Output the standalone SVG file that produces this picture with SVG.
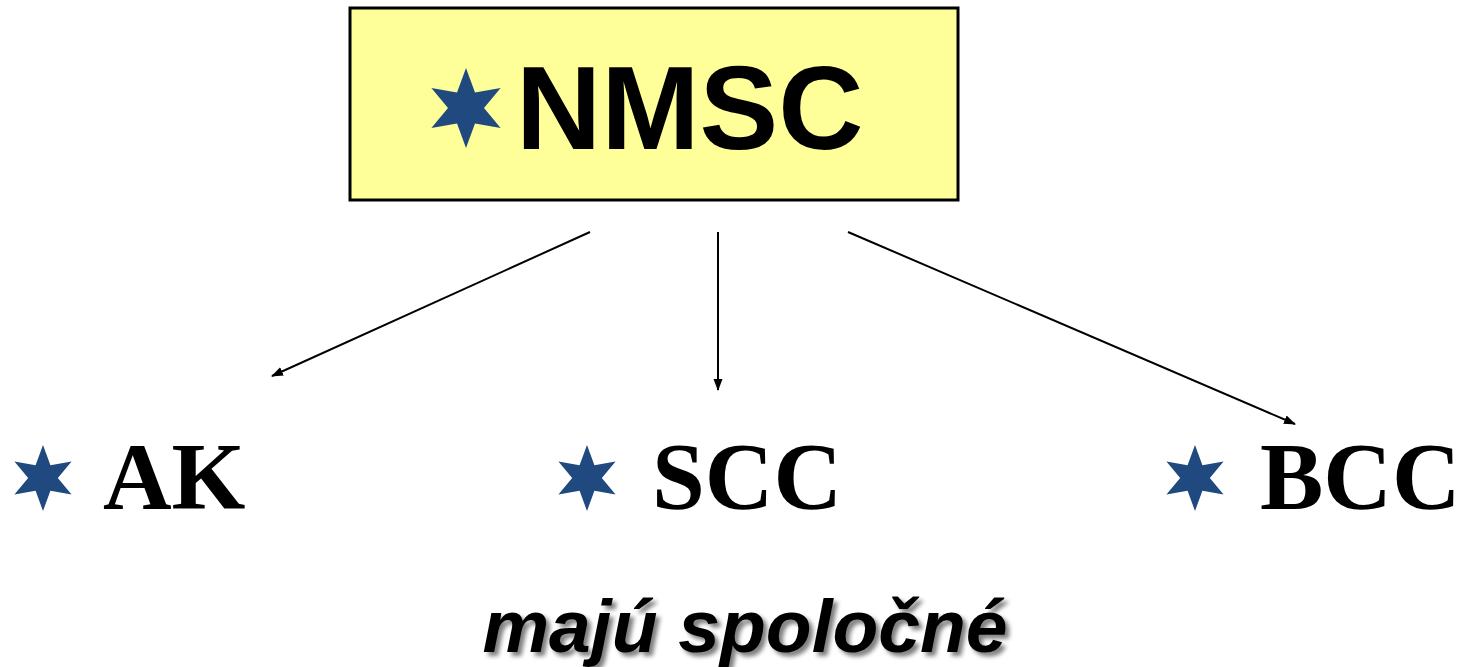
<svg xmlns="http://www.w3.org/2000/svg" width="1477" height="667" viewBox="0 0 1477 667">
  <style>
    .title { font-family: "Liberation Sans", Arial, sans-serif; font-weight: bold; font-size: 118px; fill: #000; }
    .item { font-family: "Liberation Serif", "Times New Roman", serif; font-weight: bold; font-size: 95px; fill: #000; }
    .note { font-family: "Liberation Sans", Arial, sans-serif; font-weight: bold; font-style: italic; font-size: 75px; fill: #000; }
    .star { fill: #204a7f; }
    .conn { stroke: #000; stroke-width: 2; fill: none; marker-end: url(#arrow); }
  </style>
  <defs>
    <!-- six-pointed star, outer radius 1 -->
    <polygon id="hexstar" points="0,-1 0.225,-0.39 0.866,-0.5 0.45,0 0.866,0.5 0.225,0.39 0,1 -0.225,0.39 -0.866,0.5 -0.45,0 -0.866,-0.5 -0.225,-0.39"/>
    <marker id="arrow" markerWidth="12" markerHeight="10" refX="11" refY="5" orient="auto" markerUnits="userSpaceOnUse">
      <path d="M0,0.5 L12,5 L0,9.5 Z" fill="#000"/>
    </marker>
    <filter id="shadow" x="-10%" y="-30%" width="120%" height="160%">
      <feGaussianBlur in="SourceAlpha" stdDeviation="2"/>
      <feOffset dx="4" dy="4" result="b"/>
      <feFlood flood-color="#000" flood-opacity="0.5"/>
      <feComposite in2="b" operator="in"/>
      <feMerge><feMergeNode/><feMergeNode in="SourceGraphic"/></feMerge>
    </filter>
  </defs>

  <g id="node-nmsc">
    <rect x="350" y="8" width="608" height="192" fill="#ffff99" stroke="#000" stroke-width="3"/>
    <use href="#hexstar" class="star" transform="translate(466,108) scale(40)"/>
    <text class="title" x="516" y="149">NMSC</text>
  </g>

  <g id="node-ak">
    <use href="#hexstar" class="star" transform="translate(43,478) scale(33)"/>
    <text class="item" x="103" y="509">AK</text>
  </g>

  <g id="node-scc">
    <use href="#hexstar" class="star" transform="translate(587,478) scale(33)"/>
    <text class="item" x="652" y="509">SCC</text>
  </g>

  <g id="node-bcc">
    <use href="#hexstar" class="star" transform="translate(1195,478) scale(33)"/>
    <text class="item" x="1260" y="509">BCC</text>
  </g>

  <g id="connectors">
    <line class="conn" x1="590" y1="232" x2="272" y2="376"/>
    <line class="conn" x1="718" y1="232" x2="718" y2="390"/>
    <line class="conn" x1="848" y1="232" x2="1295" y2="424"/>
  </g>

  <g id="caption">
    <text class="note" x="745" y="652" text-anchor="middle" filter="url(#shadow)">majú spoločné</text>
  </g>
</svg>
